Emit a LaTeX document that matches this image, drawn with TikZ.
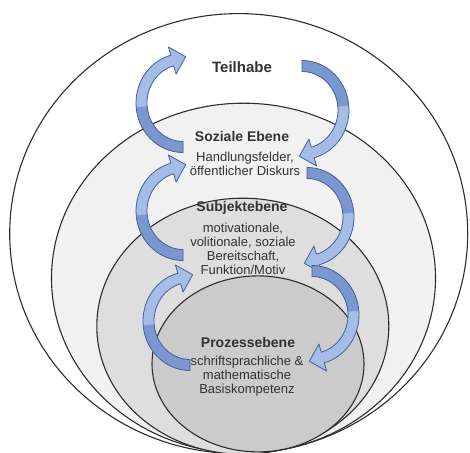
\documentclass[tikz,border=0pt]{standalone}
\usepackage{fontspec}
\setmainfont{Liberation Sans}
\definecolor{ringline}{RGB}{45,45,45}
\definecolor{socialfill}{RGB}{241,241,241}
\definecolor{subjectfill}{RGB}{222,222,222}
\definecolor{processfill}{RGB}{203,203,203}
\definecolor{arrowlight}{RGB}{164,188,230}
\definecolor{arrowdark}{RGB}{122,151,208}
\definecolor{arrowline}{RGB}{66,96,156}
\definecolor{labeltext}{RGB}{50,50,50}
% outline of one curved block arrow, tail at the bottom, head at the top
\def\arrowshape{(0,-38.5) -- (0,-49.5)
  arc[start angle=270,end angle=105,x radius=47,y radius=49.5]
  -- (-14.6,56) -- (2.7,46.3) -- (-6.9,29) -- (-9.3,37.2)
  arc[start angle=105,end angle=270,x radius=36,y radius=38.5] -- cycle}

\begin{document}
\begin{tikzpicture}[x=1pt,y=1pt,
    ring/.style={draw=ringline, line width=1.1pt},
    title/.style={font=\bfseries\fontsize{14}{16}\selectfont, text=labeltext},
    body/.style={font=\fontsize{13}{14}\selectfont, align=center, text=labeltext, inner sep=0pt},
    bendarrow/.pic={
      \fill[arrowlight] \arrowshape;
      \fill[arrowdark] (0,-38.5) -- (0,-49.5)
        arc[start angle=270,end angle=185,x radius=47,y radius=49.5]
        -- (185:36 and 38.5)
        arc[start angle=185,end angle=270,x radius=36,y radius=38.5] -- cycle;
      \draw[arrowline, line width=0.8pt, line join=round] \arrowshape;
    }]
    \useasboundingbox (0,0) rectangle (470,452);
    % the four levels, touching at the bottom
    \draw[ring, fill=white] (238.7,218.4) ellipse [x radius=229, y radius=220];
    \draw[ring, fill=socialfill] (243.5,173.8) ellipse [x radius=192, y radius=175];
    \draw[ring, fill=subjectfill] (242.8,125.8) ellipse [x radius=146, y radius=128];
    \draw[ring, fill=processfill] (258,88.1) ellipse [x radius=106, y radius=88];
    % arrows going up on the left, down on the right
    \pic (upA) at (183,349) {bendarrow};
    \pic (upB) at (183,241) {bendarrow};
    \pic (upC) at (190,131) {bendarrow};
    \pic[rotate=180] (downA) at (302,342) {bendarrow};
    \pic[rotate=180] (downB) at (307,235) {bendarrow};
    \pic[rotate=180] (downC) at (312,137) {bendarrow};
    % labels
    \node[title, font=\bfseries\fontsize{15}{17}\selectfont] (teil) at (242,385) {Teilhabe};
    \node[title] (sozial) at (242,315) {Soziale Ebene};
    \node[body] (sozialtxt) at (245,288) {Handlungsfelder,\\öffentlicher Diskurs};
    \node[title] (subjekt) at (242,244) {Subjektebene};
    \node[body] (subjekttxt) at (243,203) {motivationale,\\volitionale, soziale\\Bereitschaft,\\Funktion/Motiv};
    \node[title] (prozess) at (248,110) {Prozessebene};
    \node[body] (prozesstxt) at (247,76) {schriftsprachliche \&\\mathematische\\Basiskompetenz};
\end{tikzpicture}
\end{document}
